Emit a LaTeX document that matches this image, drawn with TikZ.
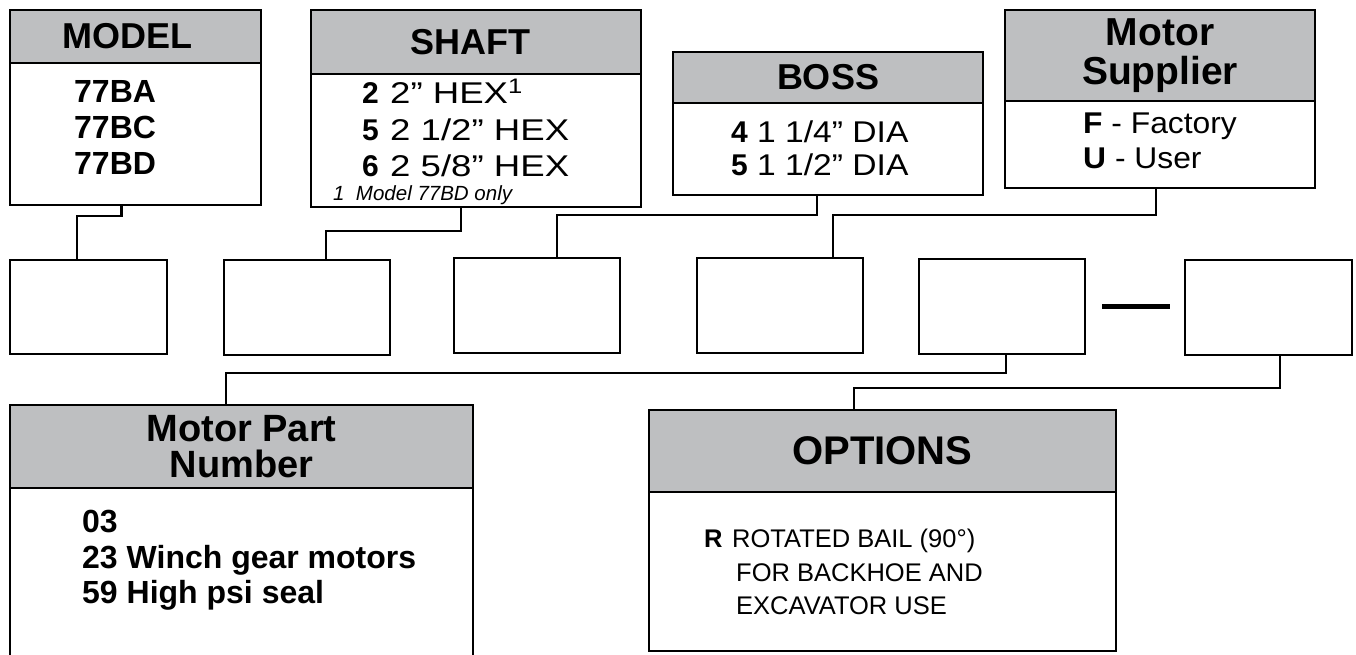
\documentclass[tikz,border=0pt]{standalone}
\usepackage{fontspec}
\setmainfont{Liberation Sans}
\usetikzlibrary{positioning}
\definecolor{hdrgray}{RGB}{190,191,193}
\newcommand{\widen}[2]{\scalebox{#1}[1]{#2}}

\begin{document}
\begin{tikzpicture}[
    x=1pt, y=-1pt,
    header/.style={rectangle, draw=black, fill=hdrgray, line width=2.8pt, outer sep=0pt, inner sep=0pt, align=center, font=\fontsize{36}{37}\selectfont\bfseries},
    panel/.style={rectangle, draw=black, fill=white, line width=2.8pt, outer sep=0pt, inner sep=0pt},
    slot/.style={rectangle, draw=black, line width=2.8pt, outer sep=0pt, minimum width=166pt, minimum height=95pt, anchor=north west},
    link/.style={line width=2.2pt},
    entry/.style={anchor=base west, inner sep=0pt, font=\fontsize{#1}{#1}\selectfont}
]
\useasboundingbox (0,0) rectangle (1356,654);

% option tables
\node (model) [header, minimum width=251pt, minimum height=53pt, anchor=north west] at (10,10) {MODEL\hspace*{16pt}};
\node (modelbody) [panel, minimum width=251pt, minimum height=142pt, below=0pt of model] {};
\node (shaft) [header, minimum width=330pt, minimum height=64pt, anchor=north west] at (311,10) {SHAFT\hspace*{12pt}};
\node (shaftbody) [panel, minimum width=330pt, minimum height=133pt, below=0pt of shaft] {};
\node (boss) [header, minimum width=310pt, minimum height=51pt, anchor=north west] at (673,52) {BOSS};
\node (bossbody) [panel, minimum width=310pt, minimum height=92pt, below=0pt of boss] {};
\node (supplier) [header, minimum width=310pt, minimum height=91pt, anchor=north west, font=\fontsize{39}{39}\selectfont\bfseries] at (1005,10) {Motor\\Supplier};
\node (supplierbody) [panel, minimum width=310pt, minimum height=87pt, below=0pt of supplier] {};
\node (partno) [header, minimum width=463pt, minimum height=83pt, anchor=north west, font=\fontsize{38}{36}\selectfont\bfseries] at (10,405) {Motor Part\\Number};
\node (partnobody) [panel, minimum width=463pt, minimum height=180pt, below=0pt of partno] {};
\node (options) [header, minimum width=467pt, minimum height=82pt, anchor=north west, font=\fontsize{40}{40}\selectfont\bfseries] at (649,410) {OPTIONS};
\node (optionsbody) [panel, minimum width=467pt, minimum height=159pt, below=0pt of options] {};

% table entries
\node (m1) [entry=32] at (74,102) {\bfseries 77BA};
\node (m2) [entry=32] at (74,138) {\bfseries 77BC};
\node (m3) [entry=32] at (74,174) {\bfseries 77BD};

\node (h1) [entry=30] at (362,103) {\bfseries 2};
\node (h1t) [entry=30] at (390,103) {\widen{1.22}{2” HEX\textsuperscript{1}}};
\node (h2) [entry=30] at (362,140) {\bfseries 5};
\node (h2t) [entry=30] at (390,140) {\widen{1.22}{2 1/2” HEX}};
\node (h3) [entry=30] at (362,176) {\bfseries 6};
\node (h3t) [entry=30] at (390,176) {\widen{1.22}{2 5/8” HEX}};
\node (note) [entry=20.5] at (333,200) {\itshape 1\ \ Model 77BD only};

\node (b1) [entry=30] at (731,142) {\bfseries 4};
\node (b1t) [entry=30] at (757,142) {\widen{1.12}{1 1/4” DIA}};
\node (b2) [entry=30] at (731,175) {\bfseries 5};
\node (b2t) [entry=30] at (757,175) {\widen{1.12}{1 1/2” DIA}};

\node (f1) [entry=30] at (1083,133) {\widen{1.06}{\textbf{F} - Factory}};
\node (f2) [entry=30] at (1083,168) {\widen{1.06}{\textbf{U} - User}};

\node (p1) [entry=32] at (82,532) {\bfseries 03};
\node (p2) [entry=32] at (82,568) {\bfseries 23 Winch gear motors};
\node (p3) [entry=32] at (82,603) {\bfseries 59 High psi seal};

\node (r1) [entry=25.5] at (704,547) {\bfseries R};
\node (r1t) [entry=25.5] at (732,547) {ROTATED BAIL (90°)};
\node (r2t) [entry=25.5] at (736,581) {FOR BACKHOE AND};
\node (r3t) [entry=25.5] at (736,614) {EXCAVATOR USE};

% code slots
\node (s1) [slot, minimum width=157pt, minimum height=94pt] at (10,260) {};
\node (s2) [slot] at (224,260) {};
\node (s3) [slot] at (454,258) {};
\node (s4) [slot] at (697,258) {};
\node (s5) [slot] at (919,259) {};
\node (s6) [slot, minimum width=167pt] at (1185,260) {};
\node (dash) [fill=black, inner sep=0pt, minimum width=68pt, minimum height=5pt] at (1136,306) {};

% leaders
\draw [link] ([xshift=-14pt]modelbody.south) -- ++(0,11) -| ([xshift=-11.5pt]s1.north);
\draw [link] ([xshift=-15pt]shaftbody.south) -- ++(0,24) -| ([xshift=19pt]s2.north);
\draw [link] ([xshift=-11pt]bossbody.south) -- ++(0,20) -| ([xshift=20pt]s3.north);
\draw [link] ([xshift=-4pt]supplierbody.south) -- ++(0,27) -| ([xshift=53pt]s4.north);
\draw [link] ([xshift=4pt]s5.south) -- ++(0,19) -| ([xshift=-15.5pt]partno.north);
\draw [link] ([xshift=11.5pt]s6.south) -- ++(0,33) -| ([xshift=-28.5pt]options.north);

\end{tikzpicture}
\end{document}
